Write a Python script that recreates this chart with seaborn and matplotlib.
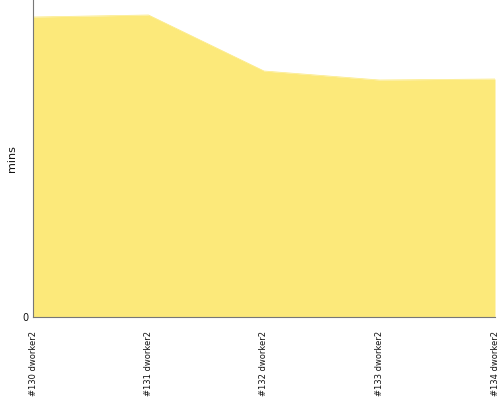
import seaborn as sns
import pandas as pd
import matplotlib.pyplot as plt

# data
builds = ["#130 dworker2", "#131 dworker2", "#132 dworker2", "#133 dworker2", "#134 dworker2"]
mins = [300, 302, 246, 237, 238]

data = pd.DataFrame({"build": builds, "mins": mins, "pos": range(len(builds))})

sns.set_style("white")
fig = plt.figure(figsize=(5, 4), dpi=100)
ax = fig.add_axes([0.066, 0.2075, 0.924, 0.7925])

sns.lineplot(data=data, x="pos", y="mins", color="#fce97a", linewidth=0.5, ax=ax)
ax.fill_between(data["pos"], data["mins"], 0, color="#fce97a", linewidth=0)

ax.set_xlim(0, len(builds) - 1)
ax.set_ylim(0, 317)
ax.set_xticks(data["pos"])
ax.set_xticklabels(builds, rotation=90, fontsize=6, color="#111111")
ax.set_yticks([0])
ax.set_yticklabels(["0"], fontsize=7, color="#111111")
ax.set_xlabel("")
ax.set_ylabel("mins", fontsize=8, color="#111111")
ax.tick_params(axis="x", length=0, pad=10)
ax.tick_params(axis="y", length=0, pad=3)
sns.despine(ax=ax)
for s in ["left", "bottom"]:
    ax.spines[s].set_color("#777777")
    ax.spines[s].set_linewidth(0.8)

fig.savefig("out.png", dpi=100)
